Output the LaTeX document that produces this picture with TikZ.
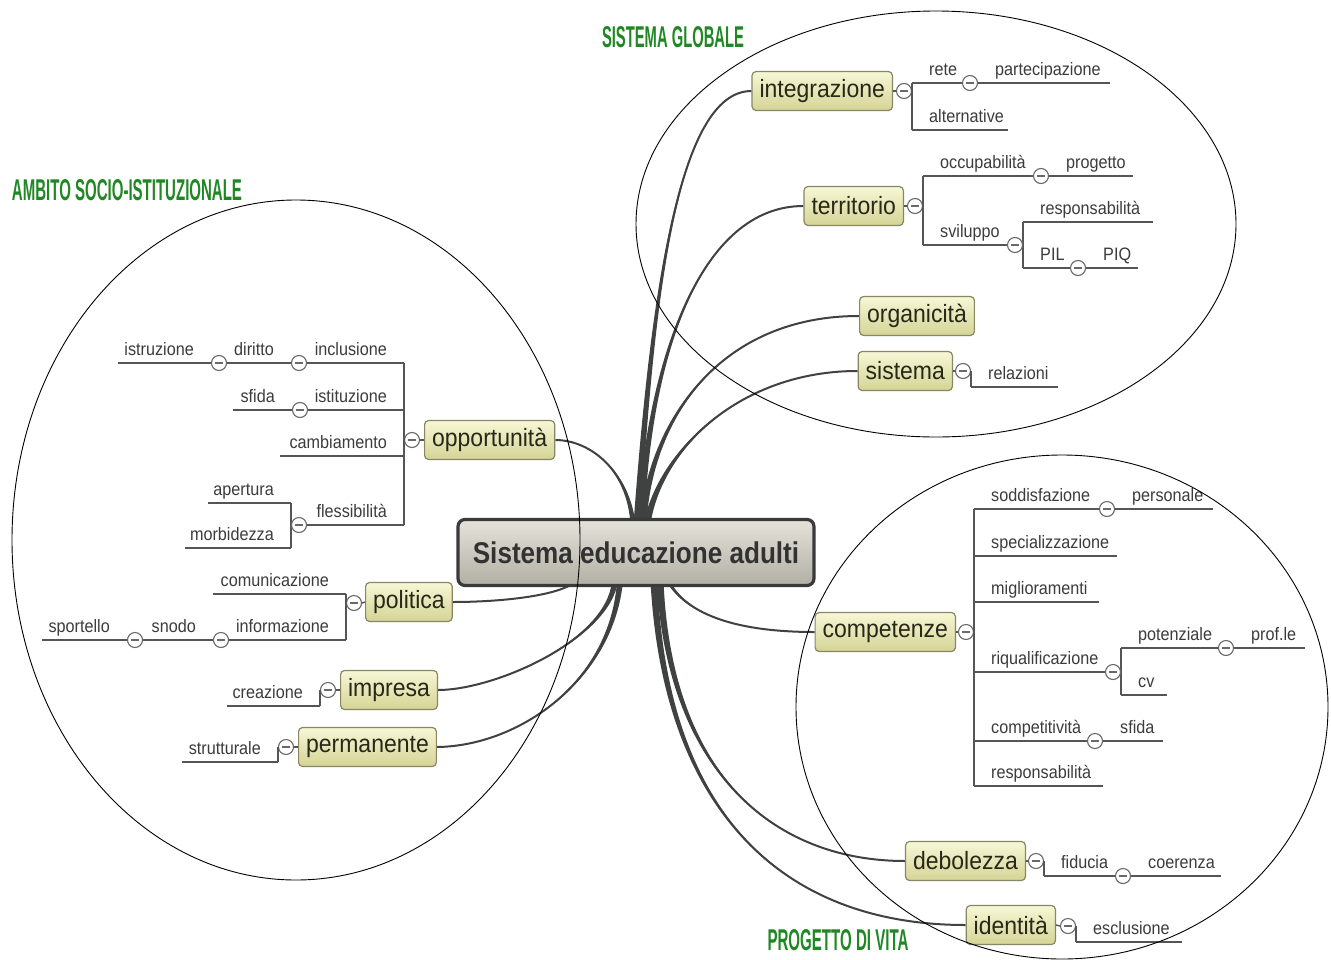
\documentclass[tikz,border=0pt]{standalone}
\usepackage{graphicx}
\usepackage{fontspec}
\setmainfont{Liberation Sans}
\newfontfamily\leaffont{Liberation Sans}[FakeStretch=0.9]
\newfontfamily\branchfont{Liberation Sans}[FakeStretch=0.92]
\newfontfamily\centerfont{Liberation Sans}[FakeStretch=0.87]
\usetikzlibrary{calc,backgrounds}
\definecolor{leafline}{RGB}{85,85,85}
\definecolor{leaftxt}{RGB}{60,60,60}
\definecolor{brtxt}{RGB}{40,40,25}
\definecolor{ctxt}{RGB}{50,50,50}
\definecolor{conncol}{RGB}{64,66,66}
\definecolor{brtop}{RGB}{247,247,214}
\definecolor{brbot}{RGB}{212,212,150}
\definecolor{brdraw}{RGB}{135,135,100}
\definecolor{ctop}{RGB}{228,226,218}
\definecolor{cbot}{RGB}{178,176,164}
\definecolor{cdraw}{RGB}{58,58,58}
\definecolor{headgreen}{RGB}{32,135,36}
\definecolor{collcol}{RGB}{105,105,105}
\newcommand\rleaf[5]{\coordinate (#1-a) at (#2,#4);\coordinate (#1-b) at (#3,#4);\draw[lline] (#1-a) -- (#1-b);\node[leaf,anchor=base west] (#1) at ($(#1-a)+(17,-8)$) {#5};}
\newcommand\lleaf[5]{\coordinate (#1-a) at (#2,#4);\coordinate (#1-b) at (#3,#4);\draw[lline] (#1-a) -- (#1-b);\node[leaf,anchor=base east] (#1) at ($(#1-b)+(-17,-8)$) {#5};}
\newcommand\taper[5]{%
  \fill[conncol] ($(#1)+(-#5,0)$) .. controls ($(#2)+(-#5/2,0)$) and (#3) .. (#4)
     .. controls (#3) and ($(#2)+(#5/2,0)$) .. ($(#1)+(#5,0)$) -- cycle;
  \draw[conncol, line width=2] (#1) .. controls (#2) and (#3) .. (#4);}
\begin{document}
\begin{tikzpicture}[x=1pt,y=-1pt,
  central/.style={draw=cdraw, line width=3.2, rounded corners=7, top color=ctop, bottom color=cbot,
    minimum width=356, minimum height=66, inner sep=0, font={\centerfont\bfseries\fontsize{30}{32}\selectfont}, text=ctxt},
  branch/.style={draw=brdraw, line width=1.2, rounded corners=4, top color=brtop, bottom color=brbot,
    minimum height=39, inner xsep=7.5, inner ysep=0, font={\branchfont\fontsize{25}{27}\selectfont}, text=brtxt},
  collapse/.style={circle, draw=collcol, fill=white, line width=1.1, minimum size=15, inner sep=0,
    path picture={\draw[collcol, line width=1.2] ($(path picture bounding box.west)+(3.5,0)$) -- ($(path picture bounding box.east)+(-3.5,0)$);}},
  leaf/.style={font={\leaffont\fontsize{18}{20}\selectfont}, text=leaftxt, inner sep=0},
  lline/.style={draw=leafline, line width=1.4},
  ell/.style={draw=black, line width=0.9},
  head/.style={text=headgreen, inner sep=0}]
\useasboundingbox (0,0) rectangle (1331,959);

% ---------- main nodes
\node[central] (c) at (636,552.5) {Sistema educazione adulti};
\node[branch, anchor=east] (integ) at (893,91) {integrazione};
\node[branch, anchor=east] (territ) at (904,206) {territorio};
\node[branch] (organ) at (917,316) {organicità};
\node[branch, anchor=east] (sist) at (953,371) {sistema};
\node[branch, anchor=east] (compet) at (956,632) {competenze};
\node[branch, anchor=east] (debol) at (1026,861) {debolezza};
\node[branch, anchor=east] (ident) at (1056,925) {identità};
\node[branch, anchor=west] (opp) at (424,440) {opportunità};
\node[branch, anchor=west] (pol) at (365,602) {politica};
\node[branch, anchor=west] (impr) at (340,690) {impresa};
\node[branch, anchor=west] (perm) at (298,747) {permanente};

% ---------- central connectors
\coordinate (s-int) at ($(c.north)+(1,6)$);
\coordinate (s-terr) at ($(c.north)+(5,6)$);
\coordinate (s-org) at ($(c.north)+(7,6)$);
\coordinate (s-sist) at ($(c.north)+(11,6)$);
\coordinate (s-opp) at ($(c.north)+(-3,6)$);
\coordinate (s-pol) at ($(c.south)+(-60,-6)$);
\coordinate (s-impr) at ($(c.south)+(-21,-6)$);
\coordinate (s-perm) at ($(c.south)+(-16,-6)$);
\coordinate (s-ident) at ($(c.south)+(18,-6)$);
\coordinate (s-debol) at ($(c.south)+(24,-6)$);
\coordinate (s-compet) at ($(c.south)+(32,-6)$);
\begin{pgfonlayer}{background}
\fill[white] (0,0) rectangle (1331,959);
\taper{s-int}{652,300}{677,91}{integ.west}{3.5}
\taper{s-terr}{648,360}{700,206}{territ.west}{3.5}
\taper{s-org}{650,420}{720,316}{organ.west}{3.5}
\taper{s-sist}{660,450}{740,371}{sist.west}{3.5}
\taper{s-opp}{628,470}{590,440}{opp.east}{2.5}
\taper{s-pol}{560,596}{500,602}{pol.east}{1.2}
\taper{s-impr}{608,640}{495,690}{impr.east}{3}
\taper{s-perm}{612,680}{520,746}{perm.east}{3}
\taper{s-compet}{690,620}{750,632}{compet.west}{2}
\taper{s-debol}{670,780}{780,861}{debol.west}{3.5}
\taper{s-ident}{665,820}{790,925}{ident.west}{3.5}
\end{pgfonlayer}

% ---------- integrazione
\node[collapse] (cInteg) at (904,91) {};
\draw[lline] (integ.east) -- (cInteg.west);
\rleaf{rete}{912}{970}{83}{rete}
\rleaf{partec}{978}{1110}{83}{partecipazione}
\rleaf{altern}{912}{1008}{130}{alternative}
\draw[lline] (rete-a) -- (altern-a);
\node[collapse] (cRete) at (rete-b) {};

% ---------- territorio
\node[collapse] (cTerr) at (915,206) {};
\draw[lline] (territ.east) -- (cTerr.west);
\rleaf{occup}{923}{1041}{176}{occupabilità}
\rleaf{progetto}{1049}{1133}{176}{progetto}
\rleaf{svil}{923}{1015}{245}{sviluppo}
\rleaf{resp1}{1023}{1153}{222}{responsabilità}
\rleaf{pil}{1023}{1078}{268}{PIL}
\rleaf{piq}{1086}{1138}{268}{PIQ}
\draw[lline] (occup-a) -- (svil-a);
\draw[lline] (resp1-a) -- (pil-a);
\node[collapse] (cOccup) at (occup-b) {};
\node[collapse] (cSvil) at (svil-b) {};
\node[collapse] (cPil) at (pil-b) {};

% ---------- sistema
\node[collapse] (cSist) at (963,371) {};
\draw[lline] (sist.east) -- (cSist.west);
\rleaf{relaz}{971}{1058}{387}{relazioni}
\draw[lline] (relaz-a |- cSist.east) -- (relaz-a);

% ---------- competenze
\node[collapse] (cComp) at (966,632) {};
\draw[lline] (compet.east) -- (cComp.west);
\rleaf{sodd}{974}{1107}{509}{soddisfazione}
\rleaf{pers}{1115}{1213}{509}{personale}
\rleaf{spec}{974}{1117}{556}{specializzazione}
\rleaf{migl}{974}{1099}{602}{miglioramenti}
\rleaf{riq}{974}{1113}{672}{riqualificazione}
\rleaf{pot}{1121}{1226}{648}{potenziale}
\rleaf{prof}{1234}{1305}{648}{prof.le}
\rleaf{cv}{1121}{1167}{695}{cv}
\rleaf{compt}{974}{1095}{741}{competitività}
\rleaf{sfidaR}{1103}{1163}{741}{sfida}
\rleaf{resp2}{974}{1103}{786}{responsabilità}
\draw[lline] (sodd-a) -- (resp2-a);
\draw[lline] (pot-a) -- (cv-a);
\node[collapse] (cSodd) at (sodd-b) {};
\node[collapse] (cRiq) at (riq-b) {};
\node[collapse] (cPot) at (pot-b) {};
\node[collapse] (cCompt) at (compt-b) {};

% ---------- debolezza
\node[collapse] (cDeb) at (1036,861) {};
\draw[lline] (debol.east) -- (cDeb.west);
\rleaf{fid}{1044}{1123}{876}{fiducia}
\rleaf{coer}{1131}{1221}{876}{coerenza}
\draw[lline] (fid-a |- cDeb.east) -- (fid-a);
\node[collapse] (cFid) at (fid-b) {};

% ---------- identita
\node[collapse] (cId) at (1068,926) {};
\draw[lline] (ident.east) -- (cId.west);
\rleaf{escl}{1076}{1182}{942}{esclusione}
\draw[lline] (escl-a |- cId.east) -- (escl-a);

% ---------- opportunita
\node[collapse] (cOpp) at (412,440) {};
\draw[lline] (opp.west) -- (cOpp.east);
\lleaf{incl}{299}{404}{363}{inclusione}
\lleaf{dir}{219}{291}{363}{diritto}
\lleaf{istr}{118}{211}{363}{istruzione}
\lleaf{istit}{300}{404}{410}{istituzione}
\lleaf{sfidaL}{233}{292}{410}{sfida}
\lleaf{camb}{280}{404}{456}{cambiamento}
\lleaf{fless}{299}{404}{525}{flessibilità}
\lleaf{apert}{208}{291}{503}{apertura}
\lleaf{morb}{185}{291}{548}{morbidezza}
\draw[lline] (incl-b) -- (fless-b);
\draw[lline] (apert-b) -- (morb-b);
\node[collapse] (cIncl) at (incl-a) {};
\node[collapse] (cDir) at (dir-a) {};
\node[collapse] (cIstit) at (istit-a) {};
\node[collapse] (cFless) at (fless-a) {};

% ---------- politica
\node[collapse] (cPol) at (354,603) {};
\draw[lline] (pol.west) -- (cPol.east);
\lleaf{comun}{213}{346}{594}{comunicazione}
\lleaf{inform}{221}{346}{640}{informazione}
\lleaf{snodo}{135}{213}{640}{snodo}
\lleaf{sport}{42}{127}{640}{sportello}
\draw[lline] (comun-b) -- (inform-b);
\node[collapse] (cInf) at (inform-a) {};
\node[collapse] (cSnodo) at (snodo-a) {};

% ---------- impresa
\node[collapse] (cImpr) at (328,690) {};
\draw[lline] (impr.west) -- (cImpr.east);
\lleaf{creaz}{227}{320}{706}{creazione}
\draw[lline] (creaz-b |- cImpr.west) -- (creaz-b);

% ---------- permanente
\node[collapse] (cPerm) at (286,747) {};
\draw[lline] (perm.west) -- (cPerm.east);
\lleaf{strut}{182}{278}{762}{strutturale}
\draw[lline] (strut-b |- cPerm.west) -- (strut-b);

% ---------- group ellipses
\draw[ell] (936,224) ellipse [x radius=300, y radius=213];
\draw[ell] (296,540) ellipse [x radius=284, y radius=340];
\draw[ell] (1062,707) ellipse [x radius=266, y radius=252];

% ---------- headings
\node[head] (hGlob) at (673,37) {\resizebox{142pt}{21pt}{\bfseries SISTEMA GLOBALE}};
\node[head] (hAmb) at (127,190.5) {\resizebox{230pt}{21pt}{\bfseries AMBITO SOCIO-ISTITUZIONALE}};
\node[head] (hProg) at (838,940.5) {\resizebox{141pt}{21pt}{\bfseries PROGETTO DI VITA}};
\end{tikzpicture}
\end{document}
